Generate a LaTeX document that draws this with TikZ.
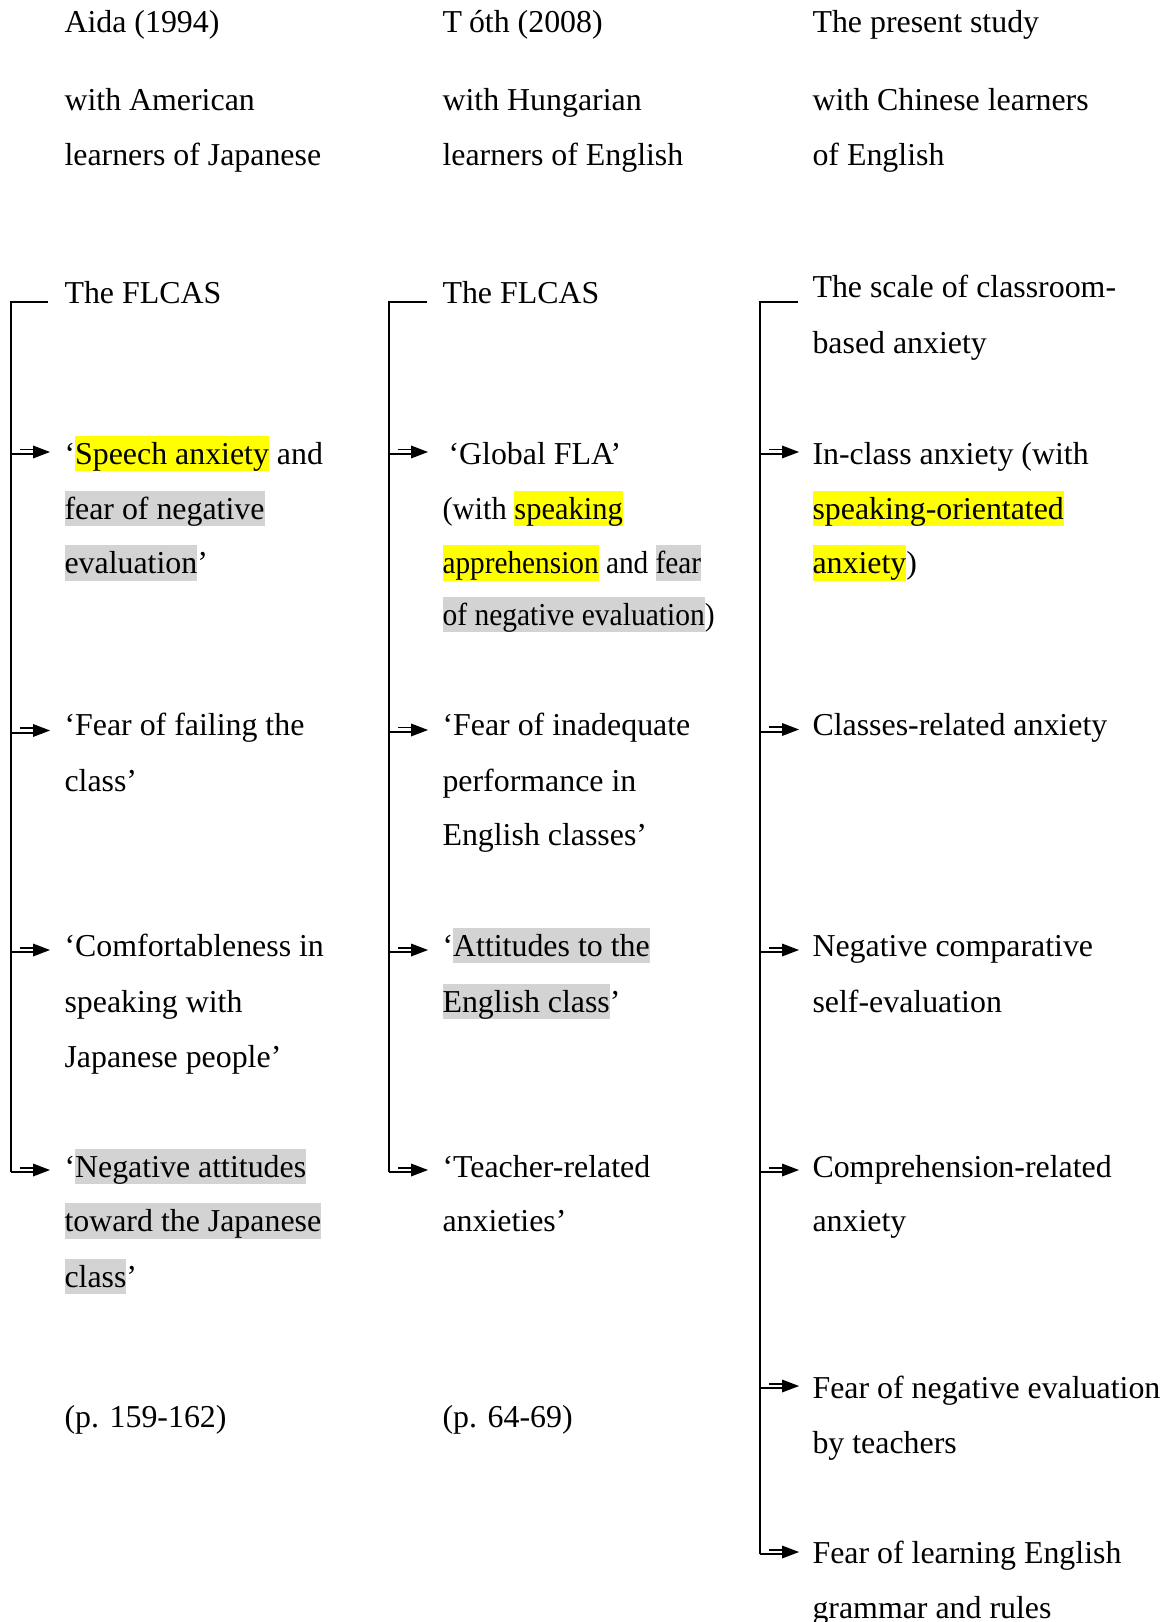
\documentclass[tikz,border=0pt]{standalone}
\usepackage{fontspec}
\usepackage{graphicx}
\setmainfont{Liberation Serif}
\usetikzlibrary{arrows.meta}
\definecolor{hlyel}{RGB}{255,255,0}
\definecolor{hlgry}{RGB}{211,211,211}
\newcommand{\hlstrut}{\rule[-0.216em]{0pt}{1.107em}}
\newcommand{\hly}[1]{{\setlength{\fboxsep}{0pt}\colorbox{hlyel}{\hlstrut #1}}}
\newcommand{\hlg}[1]{{\setlength{\fboxsep}{0pt}\colorbox{hlgry}{\hlstrut #1}}}
\begin{document}
\begin{tikzpicture}[x=0.3765pt, y=-0.3765pt,
  txt/.style={anchor=base west, inner sep=0pt, font=\fontsize{12}{14}\selectfont},
  ln/.style={line width=0.75pt},
  headtip/.style={fill=black}]
\clip (0,0) rectangle (1171,1622);
\fill[white] (0,0) rectangle (1171,1622);

% ---------- column 1 ----------
\node[txt] (h1a) at (64,32.8) {Aida (1994)};
\node[txt] (h1b) at (64,110.3) {with American};
\node[txt] (h1c) at (64,165.2) {learners of Japanese};
\node[txt] (s1) at (64,303.8) {The FLCAS};
\node[txt] (a1) at (64,464.1) {‘\hly{Speech anxiety} and};
\node[txt] (a1b) at (64,519) {\hlg{fear of negative}};
\node[txt] (a1c) at (64,573.8) {\hlg{evaluation}’};
\node[txt] (b1) at (64,735.2) {‘Fear of failing the};
\node[txt] (b1b) at (64,791) {class’};
\node[txt] (c1) at (64,956.6) {‘Comfortableness in};
\node[txt] (c1b) at (64,1012.4) {speaking with};
\node[txt] (c1c) at (64,1067.3) {Japanese people’};
\node[txt] (d1) at (64,1177) {‘\hlg{Negative attitudes}};
\node[txt] (d1b) at (64,1231.7) {\hlg{toward the Japanese}};
\node[txt] (d1c) at (64,1287.6) {\hlg{class}’};
\node[txt] (p1) at (64,1427.3) {(p. 159-162)};

% ---------- column 2 ----------
\node[txt] (h2a) at (442,32.8) {T\hspace{0.22em}óth (2008)};
\node[txt] (h2b) at (442,110.3) {with Hungarian};
\node[txt] (h2c) at (442,165.2) {learners of English};
\node[txt] (s2) at (442,303.8) {The FLCAS};
\node[txt] (a2) at (448,464.1) {‘Global FLA’};
\node[txt] (a2b) at (442,519) {\scalebox{0.956}[1]{(with \hly{speaking}}};
\node[txt] (a2c) at (442,573.8) {\scalebox{0.919}[1]{\hly{apprehension} and \hlg{fear}}};
\node[txt] (a2d) at (442,625.5) {\scalebox{0.926}[1]{\hlg{of negative evaluation})}};
\node[txt] (b2) at (442,735.2) {‘Fear of inadequate};
\node[txt] (b2b) at (442,791) {performance in};
\node[txt] (b2c) at (442,845.9) {English classes’};
\node[txt] (c2) at (442,956.6) {‘\hlg{Attitudes to the}};
\node[txt] (c2b) at (442,1012.4) {\hlg{English class}’};
\node[txt] (d2) at (442,1177) {‘Teacher-related};
\node[txt] (d2b) at (442,1231.7) {anxieties’};
\node[txt] (p2) at (442,1427.3) {(p. 64-69)};

% ---------- column 3 ----------
\node[txt] (h3a) at (812,32.8) {The present study};
\node[txt] (h3b) at (812,110.3) {with Chinese learners};
\node[txt] (h3c) at (812,165.2) {of English};
\node[txt] (s3) at (812,297.6) {The scale of classroom-};
\node[txt] (s3b) at (812,353.5) {based anxiety};
\node[txt] (a3) at (812,464.1) {In-class anxiety (with};
\node[txt] (a3b) at (812,519) {\hly{speaking-orientated}};
\node[txt] (a3c) at (812,573.8) {\hly{anxiety})};
\node[txt] (b3) at (812,735.2) {Classes-related anxiety};
\node[txt] (c3) at (812,956.6) {Negative comparative};
\node[txt] (c3b) at (812,1012.4) {self-evaluation};
\node[txt] (d3) at (812,1177) {Comprehension-related};
\node[txt] (d3b) at (812,1231.7) {anxiety};
\node[txt] (e3) at (812,1398.3) {Fear of negative evaluation};
\node[txt] (e3b) at (812,1453.1) {by teachers};
\node[txt] (f3) at (812,1563.8) {Fear of learning English};
\node[txt] (f3b) at (812,1618.7) {grammar and rules};

% ---------- brackets and arrows ----------
% column 1
\coordinate (t1) at (48,302);
\coordinate (v1top) at (11,302);
\coordinate (v1bot) at (11,1172);
\draw[ln] (t1) -- (v1top) -- (v1bot);
\foreach \yy in {452,730.5,950,1170}{
  \draw[ln] (11,\yy+2.2) -- (36,\yy+2.2);
  \draw[ln] (20,\yy-2.5) -- (36,\yy-2.5);
  \fill[headtip] (33,\yy-6.5) -- (50,\yy) -- (33,\yy+6.5) -- cycle;
}
% column 2
\coordinate (t2) at (427,302);
\coordinate (v2top) at (389,302);
\coordinate (v2bot) at (389,1172);
\draw[ln] (t2) -- (v2top) -- (v2bot);
\foreach \yy in {452,730,950,1170}{
  \draw[ln] (389,\yy+2.2) -- (414,\yy+2.2);
  \draw[ln] (398,\yy-2.5) -- (414,\yy-2.5);
  \fill[headtip] (411,\yy-6.5) -- (428,\yy) -- (411,\yy+6.5) -- cycle;
}
% column 3
\coordinate (t3) at (798,302);
\coordinate (v3top) at (760,302);
\coordinate (v3bot) at (760,1554);
\draw[ln] (t3) -- (v3top) -- (v3bot);
\foreach \yy in {452,729.5,950,1170,1386,1552}{
  \draw[ln] (760,\yy+2.2) -- (785,\yy+2.2);
  \draw[ln] (769,\yy-2.5) -- (785,\yy-2.5);
  \fill[headtip] (782,\yy-6.5) -- (799,\yy) -- (782,\yy+6.5) -- cycle;
}
\end{tikzpicture}
\end{document}
